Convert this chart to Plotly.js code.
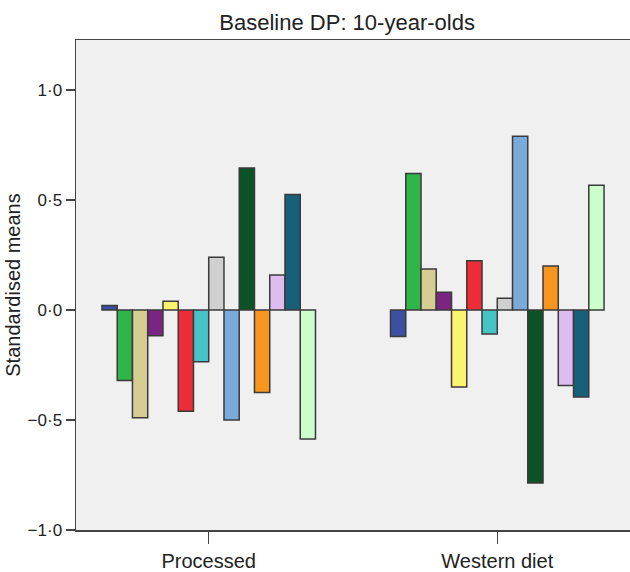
<!DOCTYPE html>
<html>
<head>
<meta charset="utf-8">
<script src="https://cdn.plot.ly/plotly-3.0.1.min.js"></script>
<style>html,body{margin:0;padding:0;background:#fff;}#chart{width:630px;height:572px;}</style>
</head>
<body>
<div id="chart"></div>
<script>
const categories = ["Processed", "Western diet"];
const seriesNames = ["Group 1","Group 2","Group 3","Group 4","Group 5","Group 6","Group 7","Group 8","Group 9","Group 10","Group 11","Group 12","Group 13","Group 14"];
const processedValues = [0.02, -0.32, -0.49, -0.117, 0.04, -0.46, -0.235, 0.24, -0.50, 0.645, -0.375, 0.159, 0.525, -0.586];
const westernValues = [-0.12, 0.62, 0.186, 0.08, -0.35, 0.224, -0.109, 0.053, 0.789, -0.786, 0.20, -0.343, -0.396, 0.567];
const seriesColors = ["#3b4fa3","#2fb548","#d5cd92","#7a2582","#fbf46f","#ec2d37","#46c3c6","#d0d0d0","#7aaad9","#0b5227","#f7951e","#ddbdf0","#186079","#cdfdcb"];
const yTickVals = [-1, -0.5, 0, 0.5, 1];
const yTickText = ["\u22121\u00b70", "\u22120\u00b75", "0\u00b70", "0\u00b75", "1\u00b70"];

const traces = seriesNames.map((name, i) => ({
  type: "bar",
  name: name,
  x: categories,
  y: [processedValues[i], westernValues[i]],
  marker: { color: seriesColors[i], line: { color: "#3a3a3a", width: 1.5 } },
  hoverinfo: "y"
}));

const layout = {
  width: 630, height: 572,
  margin: { l: 76, r: 0, t: 40, b: 42 },
  paper_bgcolor: "#ffffff",
  plot_bgcolor: "#f0f0f0",
  font: { family: "Liberation Sans, Arial, sans-serif", color: "#222", size: 14 },
  showlegend: false,
  barmode: "group",
  bargap: 0.26,
  bargroupgap: 0,
  title: { text: "Baseline DP: 10-year-olds", x: 0.551, xref: "container", xanchor: "center", y: 0.961, yref: "container", yanchor: "middle", font: { size: 22, color: "#222" } },
  xaxis: {
    type: "category",
    range: [-0.46, 1.46],
    showline: true, linecolor: "#444", linewidth: 1.5, mirror: true,
    ticks: "outside", ticklen: 12, tickcolor: "#444", tickwidth: 1.5,
    showgrid: false, zeroline: false,
    tickfont: { size: 20, color: "#222" }
  },
  yaxis: {
    range: [-1, 1.227],
    tickvals: yTickVals, ticktext: yTickText,
    showline: true, linecolor: "#444", linewidth: 1.5, mirror: true,
    ticks: "outside", ticklen: 9, tickcolor: "#444", tickwidth: 1.5,
    showgrid: false, zeroline: false,
    tickfont: { size: 17, color: "#222" },
    title: { text: "Standardised means", font: { size: 20, color: "#222" }, standoff: 1 }
  }
};

Plotly.newPlot("chart", traces, layout, { displayModeBar: false, staticPlot: true });
</script>
</body>
</html>
